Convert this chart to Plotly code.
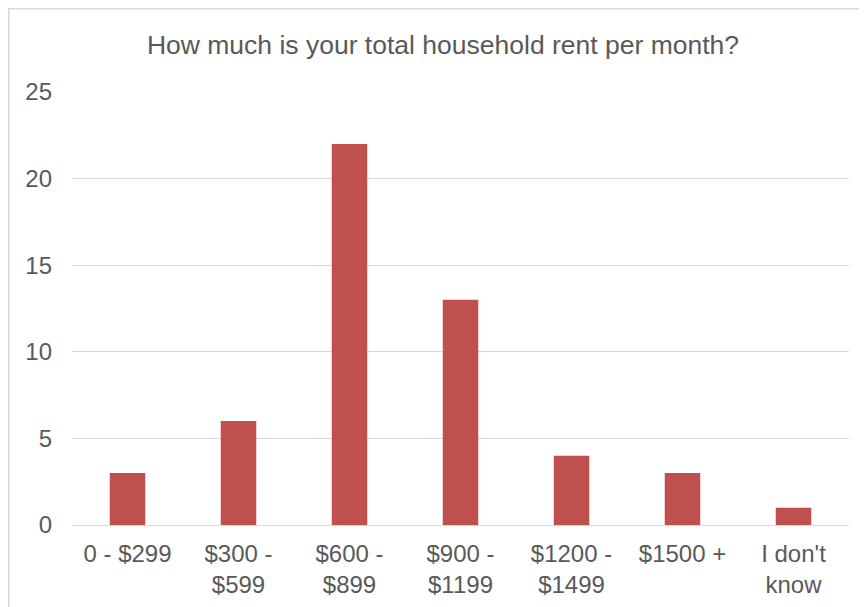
import plotly.graph_objects as go

categories = ["0 - $299", "$300 -<br>$599", "$600 -<br>$899", "$900 -<br>$1199",
              "$1200 -<br>$1499", "$1500 +", "I don't<br>know"]
counts = [3, 6, 22, 13, 4, 3, 1]
y_ticks = [0, 5, 10, 15, 20, 25]

# page body has an 8px margin, so the figure fills the remaining area
W, H = 859, 599
ml, mr, mt, mb = 64, 18, 84, 82
pw, ph = W - ml - mr, H - mt - mb

fig = go.Figure(go.Bar(x=categories, y=counts, marker_color="#C0504D",
                       marker_line_width=0))

text_col = "#595959"
fig.update_layout(
    width=W, height=H,
    margin=dict(l=ml, r=mr, t=mt, b=mb, autoexpand=False),
    paper_bgcolor="white", plot_bgcolor="white",
    bargap=0.68,
    font=dict(family="Liberation Sans, Arial, sans-serif", color=text_col, size=24),
    title=dict(text="How much is your total household rent per month?",
               x=435 / W, xanchor="center", y=1 - 37 / H, yanchor="middle",
               font=dict(size=26.5, color=text_col)),
    xaxis=dict(showgrid=False, showline=False, ticks="", tickfont=dict(size=24),
               ticklabelstandoff=12, automargin=False),
    yaxis=dict(range=[0, 25], tickvals=y_ticks, showgrid=True, gridcolor="#D9D9D9",
               gridwidth=1, zeroline=True, zerolinecolor="#D9D9D9", zerolinewidth=1,
               showline=False, ticks="", tickfont=dict(size=24), ticklabelstandoff=19,
               automargin=False),
    showlegend=False,
    shapes=[dict(type="rect", xref="paper", yref="paper",
                 x0=(0.75 - ml) / pw, x1=1 + 40 / pw,
                 y0=-120 / ph, y1=1 + (mt - 0.75) / ph,
                 line=dict(color="#D9D9D9", width=1.5), fillcolor="rgba(0,0,0,0)",
                 layer="below")],
)

fig.write_html("out.html")
